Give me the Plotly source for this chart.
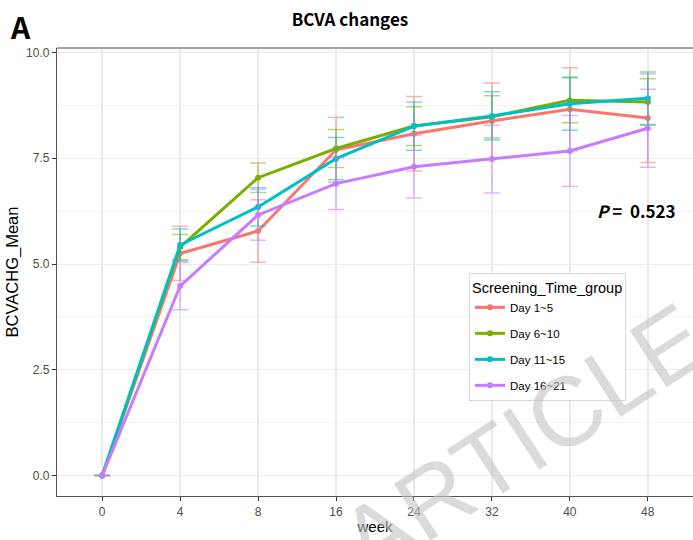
import plotly.graph_objects as go

weeks = ["0", "4", "8", "16", "24", "32", "40", "48"]
groups = ["Day 1~5", "Day 6~10", "Day 11~15", "Day 16~21"]

mean_d1_5 = [0, 5.25, 5.78, 7.70, 8.08, 8.38, 8.66, 8.45]
mean_d6_10 = [0, 5.40, 7.04, 7.73, 8.26, 8.48, 8.87, 8.83]
mean_d11_15 = [0, 5.45, 6.35, 7.49, 8.26, 8.50, 8.79, 8.92]
mean_d16_21 = [0, 4.48, 6.16, 6.90, 7.30, 7.48, 7.67, 8.21]

err_d1_5 = [0.0, 0.64, 0.74, 0.77, 0.88, 0.90, 0.98, 1.05]
err_d6_10 = [0.0, 0.30, 0.35, 0.45, 0.46, 0.50, 0.53, 0.55]
err_d11_15 = [0.0, 0.38, 0.45, 0.50, 0.57, 0.57, 0.63, 0.62]
err_d16_21 = [0.0, 0.56, 0.60, 0.61, 0.74, 0.80, 0.84, 0.92]

colors = ["#F8766D", "#7CAE00", "#00BFC4", "#C77CFF"]
err_colors = ["rgba(248,118,109,0.55)", "rgba(124,174,0,0.55)",
              "rgba(0,191,196,0.55)", "rgba(199,124,255,0.55)"]

means = [mean_d1_5, mean_d6_10, mean_d11_15, mean_d16_21]
errs = [err_d1_5, err_d6_10, err_d11_15, err_d16_21]

fig = go.Figure()
for g, m, e, c, ec in zip(groups, means, errs, colors, err_colors):
    fig.add_trace(go.Scatter(
        x=weeks, y=m, name=g, mode="lines+markers", legendgroup=g,
        line=dict(color=c, width=3),
        marker=dict(color=c, size=6),
        error_y=dict(type="data", array=e, color=ec, thickness=1.5, width=8),
    ))

W, H = 693, 540
ml, mr, mt, mb = 57, 0, 47.5, 43.5
pw, ph = W - ml - mr, H - mt - mb

def px(x):
    return (x - ml) / pw

def py(y):
    return (H - mb - y) / ph

fig.update_layout(
    width=W, height=H,
    margin=dict(l=ml, r=mr, t=mt, b=mb, pad=0),
    paper_bgcolor="white", plot_bgcolor="white",
    font=dict(family="Liberation Sans, Arial, sans-serif", color="black"),
    title=dict(text="<b>BCVA changes</b>", x=350 / W, xref="container", xanchor="center",
               y=1 - 20 / H, yref="container", yanchor="middle",
               font=dict(family="Noto Sans CJK KR", size=17, color="black")),
    xaxis=dict(type="category", range=[-0.58, 7.58],
               showgrid=True, gridcolor="#ebebeb", gridwidth=1.5,
               showline=True, linecolor="#555555", linewidth=1.3,
               ticks="outside", ticklen=4, tickcolor="#333333", tickwidth=1,
               tickfont=dict(size=12, color="#4d4d4d"),
               title=dict(text="week", font=dict(size=15, color="black"), standoff=3),
               zeroline=False),
    yaxis=dict(range=[-0.483, 10.106], tick0=0, dtick=2.5, tickformat=".1f",
               showgrid=True, gridcolor="#ebebeb", gridwidth=1.3,
               minor=dict(dtick=1.25, tick0=0, showgrid=True, gridcolor="#f3f3f3", gridwidth=1, ticks=""),
               showline=True, linecolor="#555555", linewidth=1.3,
               ticks="outside", ticklen=4, tickcolor="#333333", tickwidth=1,
               tickfont=dict(size=12, color="#4d4d4d"),
               title=dict(text="BCVACHG_Mean", font=dict(size=16.5, color="black"), standoff=3),
               zeroline=False),
    legend=dict(x=px(469), y=py(273), xanchor="left", yanchor="top",
                bgcolor="white", bordercolor="#d9d9d9", borderwidth=1,
                title=dict(text="Screening_Time_group", font=dict(size=14.5, color="black")),
                font=dict(size=11.5, color="black"), tracegroupgap=7),
    showlegend=True,
)

fig.add_shape(type="line", xref="paper", yref="paper", x0=0, x1=1, y0=1, y1=1,
              line=dict(color="#a6a6a6", width=2))

fig.add_annotation(text="<b>A</b>", xref="paper", yref="paper", x=px(20), y=py(25),
                   xanchor="center", yanchor="middle", showarrow=False,
                   font=dict(family="Noto Sans CJK KR", size=30, color="black"))
fig.add_annotation(text="<b><i>P</i> =  0.523</b>", xref="paper", yref="paper",
                   x=px(636), y=py(210), xanchor="center", yanchor="middle", showarrow=False,
                   font=dict(family="Noto Sans CJK KR", size=17, color="black"))
fig.add_annotation(text="ARTICLE IN PRESS", xref="paper", yref="paper",
                   x=px(726), y=py(308), xanchor="center", yanchor="middle", showarrow=False,
                   textangle=-33,
                   font=dict(family="Liberation Sans, Arial", size=98, color="rgba(195,195,195,0.6)"))

fig.write_html("out.html")
